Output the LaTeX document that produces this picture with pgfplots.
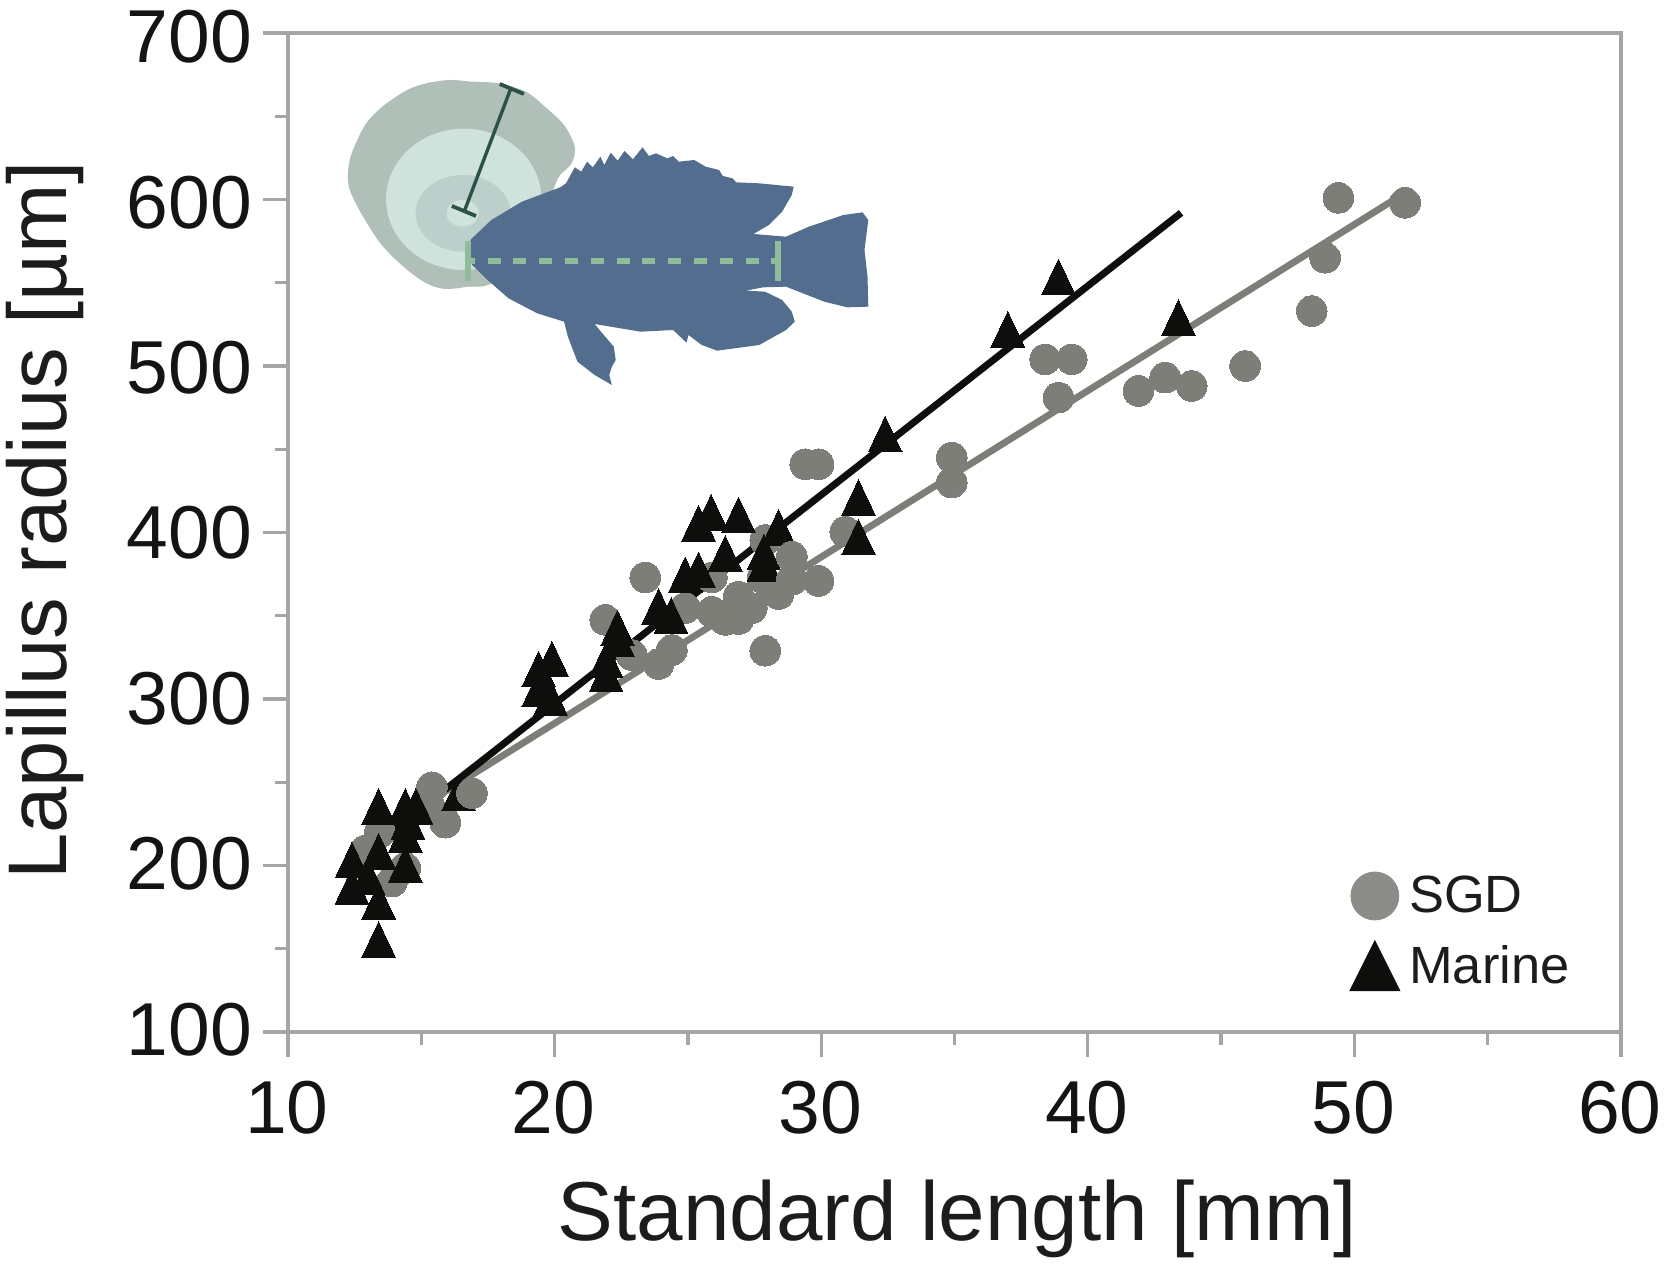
\documentclass[border=0pt]{standalone}
\usepackage{pgfplots}
\pgfplotsset{compat=1.18}
\usepackage{fontspec}
\setmainfont{Liberation Sans}
\newcommand\yl[2]{\raisebox{#1}[26.85pt][0pt]{#2}}
\definecolor{axgray}{HTML}{A5A5A5}
\definecolor{sgd}{HTML}{7D7E78}
\definecolor{sgdleg}{HTML}{8C8D88}
\definecolor{marine}{HTML}{0E0E0C}
\definecolor{txt}{HTML}{1C1C1C}
\definecolor{otoA}{HTML}{B0BFB8}
\definecolor{otoB}{HTML}{CFE2DC}
\definecolor{otoC}{HTML}{BCCFCA}
\definecolor{otoD}{HTML}{2C5248}
\definecolor{fish}{HTML}{526D8E}
\definecolor{fishg}{HTML}{8FBD9B}
\begin{document}
\begin{tikzpicture}
\path[use as bounding box] (-144pt,-116.5pt) rectangle (688.5pt,516pt);
\begin{scope}[shift={(6pt,491pt)},x=0.19135pt,y=-0.16667pt]
\fill[otoA] plot[smooth cycle,tension=0.5] coordinates {(390,90)(450,95)(520,100)(590,125)(640,170)(690,225)(718,290)(710,340)(680,375)(665,410)(600,600)(500,700)(440,710)(380,717)(330,700)(270,650)(210,580)(160,490)(130,420)(125,370)(135,310)(170,225)(215,170)(280,120)(330,100)};
\fill[otoB] (428,448) ellipse [x radius=203,y radius=212];
\fill[otoC] (426,490) ellipse [x radius=124,y radius=115];
\fill[otoB] (425,490) ellipse [x radius=42,y radius=40];
\draw[otoD,line width=1.7pt] (550,118)--(430,482);
\draw[otoD,line width=1.9pt] (522,102)--(585,132);
\draw[otoD,line width=1.9pt] (397,468)--(460,498);
\fill[fish] (445,570)--(500,510)--(580,455)--(680,412)--(695,400)--(718,352)--(735,365)--(750,335)--(765,352)--(785,320)--(795,345)--(812,308)--(830,332)--(848,303)--(870,328)--(895,292)--(912,318)--(930,310)--(960,325)--(975,318)--(990,335)--(1030,330)--(1060,350)--(1095,360)--(1105,378)--(1130,385)--(1140,397)--(1200,400)--(1290,410)--(1285,435)--(1260,485)--(1225,525)--(1185,552)--(1270,560)--(1330,530)--(1420,495)--(1470,487)--(1485,510)--(1475,600)--(1483,680)--(1485,770)--(1430,772)--(1370,755)--(1270,710)--(1210,712)--(1165,722)--(1215,725)--(1260,750)--(1285,785)--(1293,815)--(1270,840)--(1200,885)--(1090,902)--(1050,885)--(1015,855)--(1010,878)--(975,840)--(890,845)--(770,822)--(790,850)--(820,890)--(825,930)--(815,950)--(808,975)--(815,1005)--(770,975)--(725,935)--(700,860)--(690,815)--(620,790)--(545,745)--(490,690)--(450,645)--(445,600)--cycle;
\draw[fishg,line width=3pt,dash pattern=on 6.5pt off 6.4pt] (490,632)--(1250,632);
\draw[fishg,line width=3pt] (440,632)--(456,632);
\draw[fishg,line width=3pt] (438,572)--(438,692);
\draw[fishg,line width=3pt] (1248,572)--(1248,692);
\end{scope}
\begin{axis}[
  scale only axis,width=666.5pt,height=499.5pt,
  xmin=10,xmax=60,ymin=100,ymax=700,
  xtick={10,20,...,60},ytick={100,200,...,700},
  yticklabels={\yl{1.9pt}{100},\yl{1.33pt}{200},\yl{0.77pt}{300},\yl{0.2pt}{400},\yl{-0.37pt}{500},\yl{-0.93pt}{600},\yl{-1.5pt}{700}},
  minor x tick num=1,minor y tick num=1,
  xtick pos=bottom,ytick pos=left,tick align=outside,
  axis line style={color=axgray,line width=1.65pt},
  tick style={color=axgray,line width=1.65pt},
  major tick length=12.5pt,minor tick length=6.3pt,
  /pgf/number format/assume math mode=true,
  tick label style={font=\fontsize{37.5}{40}\selectfont,text=black!92},
  x tick label style={yshift=-8.4pt,xshift=-0.5pt},
  y tick label style={xshift=-2pt},
  xlabel={Standard length [mm]},
  ylabel={Lapillus radius [µm]},
  x label style={font=\fontsize{41.8}{44}\selectfont,text=txt,at={(axis description cs:0.5022,-0.1872)},anchor=center},
  y label style={font=\fontsize{41.6}{44}\selectfont,text=txt,at={(axis description cs:-0.182,0.512)},anchor=center},
  clip=false,
  legend style={draw=none,fill=none,font=\fontsize{26.2}{30}\selectfont,text=txt,
    at={(rel axis cs:0.7915,0.165)},anchor=north west,row sep=10pt},
  legend cell align=left,
]
\addplot[only marks,color=sgd,mark=*,mark size=7.65pt,mark options={fill=sgd,draw=sgd,line width=0pt},
  legend image code/.code={\fill[sgdleg] (0pt,0pt) circle (12pt);\path (15pt,0pt);}] coordinates {
(51.9,598)(49.4,601)(48.9,565)(48.4,533)(45.9,500)(43.9,488)(42.9,493)(41.9,485)(39.4,504)(38.4,504)
(38.9,481)(34.9,445)(34.9,430)(29.9,441)(29.4,441)(30.9,400.5)(29.9,370.9)(27.9,395.5)(28.4,363)(27.9,329)
(27.4,354.6)(26.9,361.5)(26.9,348)(26.4,347.5)(25.9,352.4)(25.9,373)(27.8,372.7)(24.9,354.6)(24.4,329.4)(23.9,321)(22.9,326.4)
(23.4,373)(21.9,347.5)(15.4,247)(15.9,225.7)(15.3,236)(13.9,190.3)(14.4,198.5)(12.9,209)(13.45,220)};
\addlegendentry{SGD}
\addplot[only marks,color=marine,mark=triangle*,mark size=9.73pt,mark options={fill=marine,draw=marine,line width=0pt,yscale=1.22},
  legend image code/.code={\fill[marine] (-12.5pt,-12.5pt)--(12.5pt,-12.5pt)--(0pt,12.5pt)--cycle;\path (15pt,0pt);}] coordinates {
(43.4,525.5)(38.9,550)(37,518.5)(32.4,455.5)(31.4,417.5)(31.4,393.7)(28.4,399.5)(27.85,384.7)(27.85,377.6)
(26.9,407)(25.87,408.5)(25.4,402)(26.4,383.9)(25.4,374)(24.9,371)(24.37,346.5)(23.9,352)(22.36,339)(22.36,332.5)(21.93,320)(21.93,311.4)(19.9,320.4)(19.4,314.4)(19.4,302.4)(19.85,297.4)(16.4,240)
(14.8,232)(14.4,232)(13.4,232)(14.5,223)(14.4,215)(14.4,197)(13.4,205)(13.4,175)(13.4,152)(12.4,199.7)(12.4,184)
(13,190)};
\addlegendentry{Marine}
\addplot[forget plot,only marks,color=sgd,mark=*,mark size=7.65pt,mark options={fill=sgd,draw=sgd,line width=0pt}] coordinates {
(16.9,243.4)(28.9,385.5)(28.9,371.6)};
\addplot[forget plot,sgd,line width=3.4pt] coordinates {(12.9,214.5)(51.6,601)};
\addplot[forget plot,marine,line width=3.5pt] coordinates {(12.5,203)(43.5,592)};
\end{axis}
\end{tikzpicture}
\end{document}
